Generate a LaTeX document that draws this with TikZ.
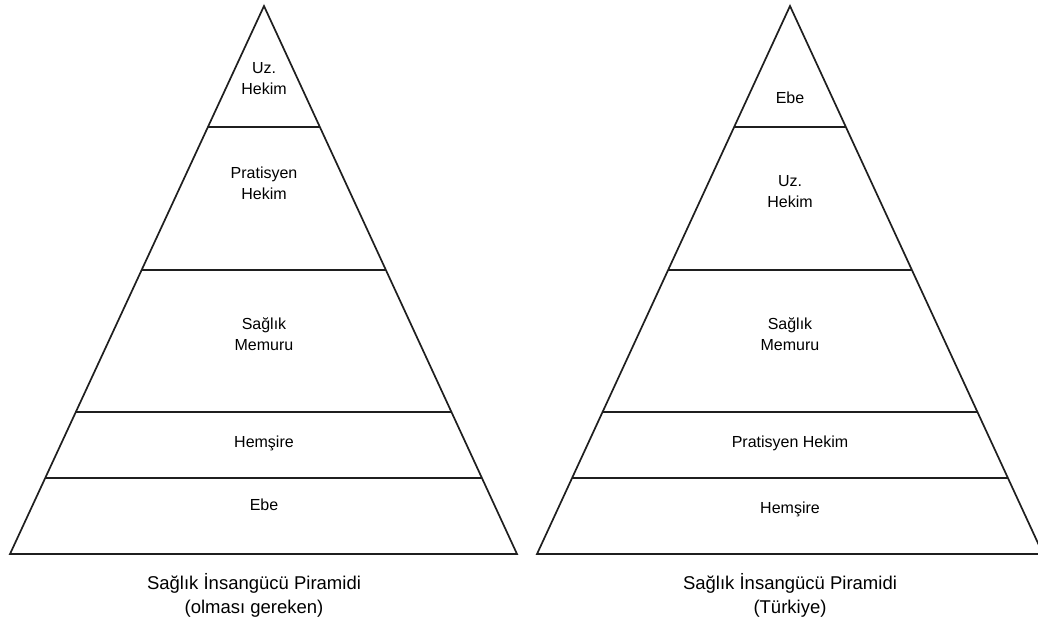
\documentclass[tikz,border=0pt]{standalone}
\usepackage{fontspec}
\setmainfont{Liberation Sans}
\usetikzlibrary{calc}
\begin{document}
\begin{tikzpicture}[x=1pt,y=-1pt,
  edge/.style={line width=1.7pt,draw=black!88,line join=miter},
  lbl/.style={align=center,font=\fontsize{16}{21}\selectfont,inner sep=0pt},
  captxt/.style={align=center,font=\fontsize{18.5}{24}\selectfont,inner sep=0pt}]
\useasboundingbox (0,0) rectangle (1038,621);
\clip (0,0) rectangle (1038,621);
% left pyramid
\coordinate (LA) at (264,6);
\coordinate (LL) at (10,554);
\coordinate (LR) at (517,554);
\draw[edge] (LA) -- (LL) -- (LR) -- cycle;
\foreach \t [count=\i] in {0.2208,0.4818,0.7409,0.8613}{
  \draw[edge] ($(LA)!\t!(LL)$) coordinate (LS\i) -- ($(LA)!\t!(LR)$) coordinate (LE\i);
}
\node[lbl] (l1) at (264,79) {Uz.\\Hekim};
\node[lbl] (l2) at (264,183) {Pratisyen\\Hekim};
\node[lbl] (l3) at (264,334) {Sağlık\\Memuru};
\node[lbl] (l4) at (264,443) {Hemşire};
\node[lbl] (l5) at (264,505) {Ebe};
\node[captxt] (lc) at (254,595) {Sağlık İnsangücü Piramidi\\(olması gereken)};
% right pyramid
\coordinate (RA) at (790,6);
\coordinate (RL) at (537,554);
\coordinate (RR) at (1043,554);
\draw[edge] (RA) -- (RL) -- (RR) -- cycle;
\foreach \t [count=\i] in {0.2208,0.4818,0.7409,0.8613}{
  \draw[edge] ($(RA)!\t!(RL)$) coordinate (RS\i) -- ($(RA)!\t!(RR)$) coordinate (RE\i);
}
\node[lbl] (r1) at (790,98) {Ebe};
\node[lbl] (r2) at (790,192) {Uz.\\Hekim};
\node[lbl] (r3) at (790,334) {Sağlık\\Memuru};
\node[lbl] (r4) at (790,443) {Pratisyen Hekim};
\node[lbl] (r5) at (790,509) {Hemşire};
\node[captxt] (rc) at (790,595) {Sağlık İnsangücü Piramidi\\(Türkiye)};
\end{tikzpicture}
\end{document}
